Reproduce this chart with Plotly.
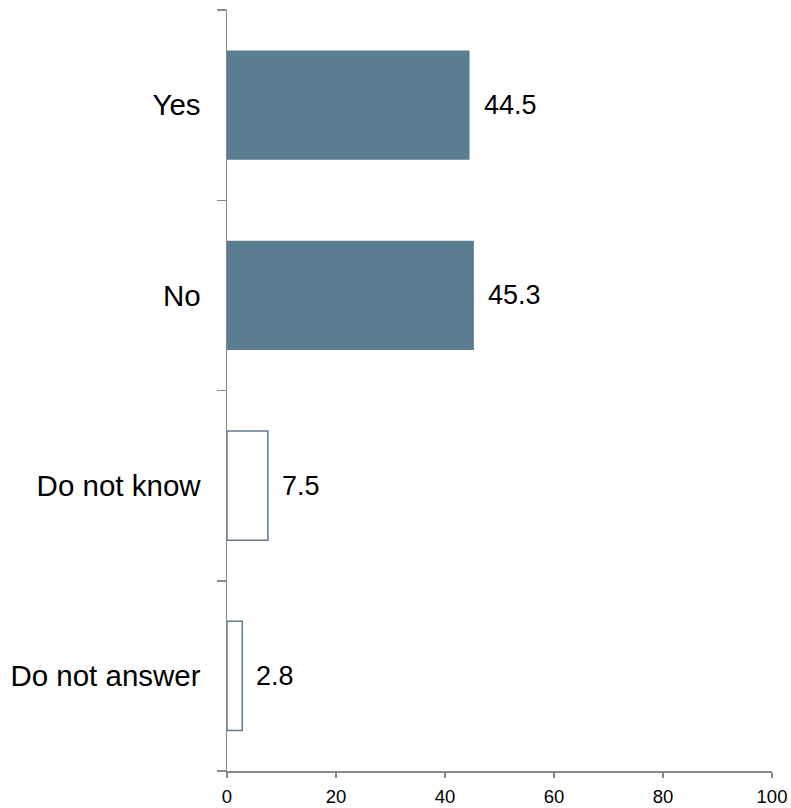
import plotly.graph_objects as go

categories = ["Yes", "No", "Do not know", "Do not answer"]
values = [44.5, 45.3, 7.5, 2.8]
filled = [True, True, False, False]
x_ticks = [0, 20, 40, 60, 80, 100]

bar_color = "#5B7D90"
axis_color = "#888888"
font_family = "Arial, 'Liberation Sans', sans-serif"

fig = go.Figure()
fig.add_trace(go.Bar(
    y=categories,
    x=values,
    orientation="h",
    marker=dict(
        color=[bar_color if f else "white" for f in filled],
        line=dict(color=bar_color, width=[0 if f else 1.5 for f in filled]),
    ),
    hoverinfo="skip",
))

for c, v in zip(categories, values):
    fig.add_annotation(
        x=v, y=c, text=f"{v:.1f}", showarrow=False,
        xanchor="left", yanchor="middle", xshift=12,
        font=dict(size=27, color="black", family=font_family),
    )

fig.update_layout(
    width=791, height=808,
    margin=dict(l=227, r=19, t=10, b=37),
    paper_bgcolor="white", plot_bgcolor="white",
    bargap=0.427,
    showlegend=False,
    font=dict(family=font_family, color="black"),
)
fig.update_xaxes(
    range=[0, 100], tickvals=x_ticks, ticktext=[str(t) for t in x_ticks],
    showgrid=False, zeroline=False, automargin=False,
    showline=True, linecolor=axis_color, linewidth=1.5,
    ticks="outside", ticklen=5, tickcolor=axis_color, tickwidth=1.5,
    ticklabelstandoff=3,
    tickfont=dict(size=18.5, color="black"),
)
fig.update_yaxes(
    categoryorder="array", categoryarray=categories[::-1],
    showgrid=False, zeroline=False, automargin=False,
    showline=True, linecolor=axis_color, linewidth=1.5,
    ticks="outside", ticklen=9, tickcolor=axis_color, tickwidth=1.5,
    tickson="boundaries", ticklabelstandoff=19,
    tickfont=dict(size=29.5, color="black"),
)

fig.write_html(
    "out.html",
    config={"displayModeBar": False, "staticPlot": True},
    post_script="document.body.style.margin='0';document.body.style.overflow='hidden';",
)
